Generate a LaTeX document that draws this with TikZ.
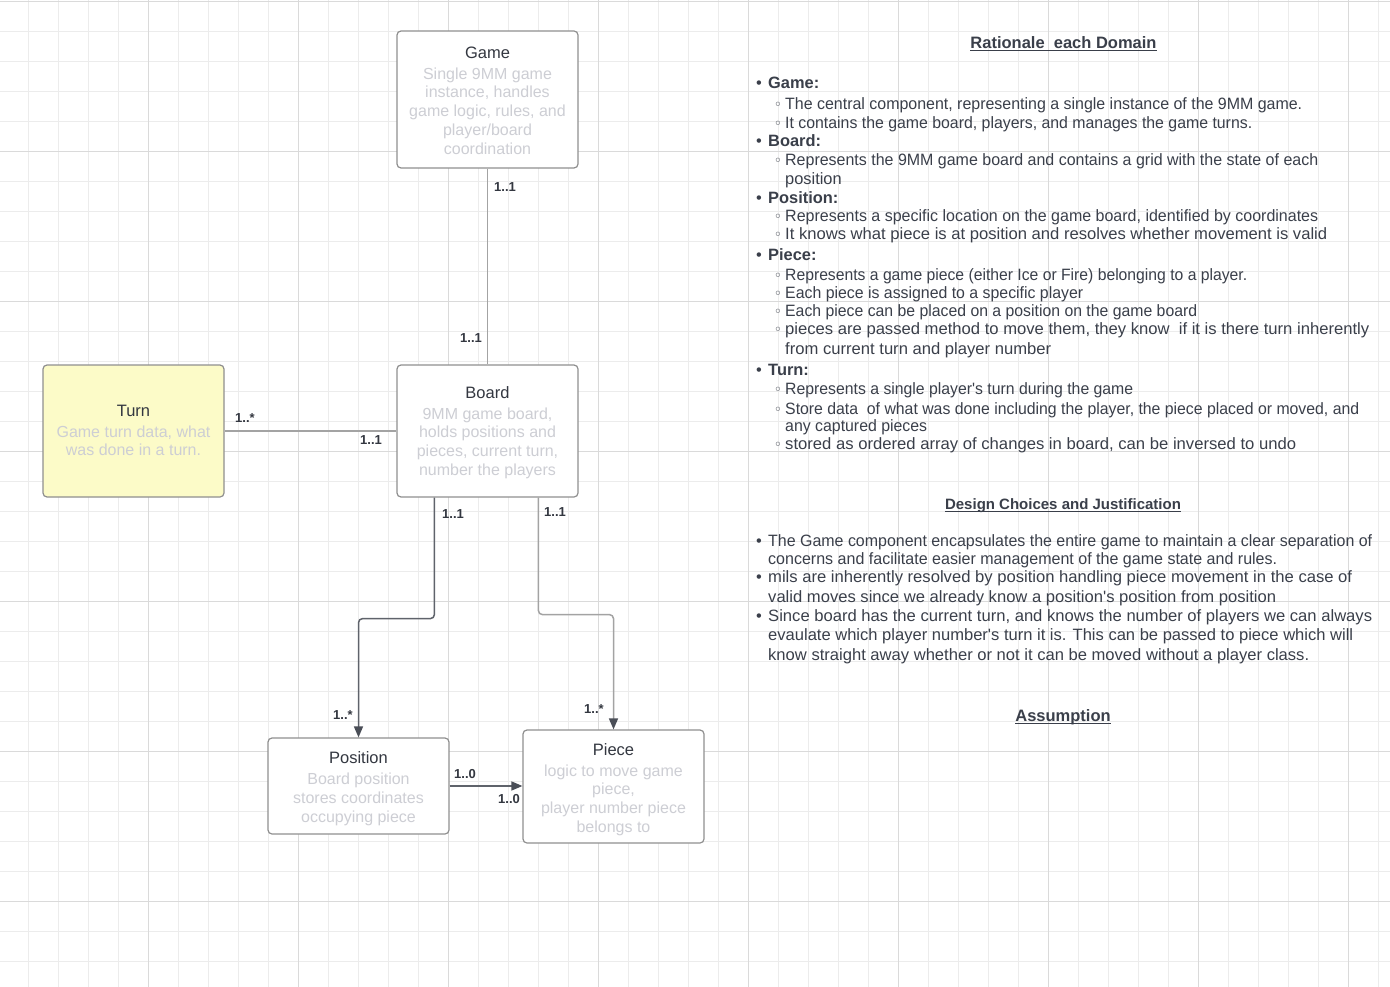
\documentclass[tikz,border=0pt]{standalone}
\usepackage{graphicx}
\usepackage{fontspec}
\setmainfont{Liberation Sans}[Ligatures=TeXOff]
\newfontfamily\dejavu{DejaVu Sans}
\usetikzlibrary{arrows.meta}
\definecolor{gridl}{HTML}{ECECEC}
\definecolor{gridd}{HTML}{DADADA}
\definecolor{boxdraw}{HTML}{8F8F8F}
\definecolor{turnfill}{HTML}{FCFBC8}
\definecolor{titlec}{HTML}{333740}
\definecolor{descc}{HTML}{CDCED4}
\definecolor{txt}{HTML}{3A3F4A}
\definecolor{linel}{HTML}{A3A3A3}
\definecolor{lined}{HTML}{5F636B}
\definecolor{tipc}{HTML}{4A4E57}
\newcommand\ttl[1]{{\color{titlec}\fontsize{16.5}{18.7}\selectfont #1}\\[2.3pt]}
\newcommand\fitw[2]{\resizebox{#1pt}{\height}{#2}}
\newcommand\mitem[3]{\node[bul] (#1b) at (759,#2) {•}; \node[bodyb] (#1) at (768,#2) {#3};}
\newcommand\sitem[4]{\node[subb] (#1b) at (778,#2) {◦}; \node[body] (#1) at (785,#2) {\fitw{#3}{#4}};}
\newcommand\contline[5]{\node[body] (#1) at (#2,#3) {\fitw{#4}{#5}};}
\newcommand\ditem[4]{\node[bul] (#1b) at (759,#2) {•}; \node[body] (#1) at (768,#2) {\fitw{#3}{#4}};}
\tikzset{
 box/.style={draw=boxdraw, line width=1.2pt, rounded corners=4pt, fill=white, inner sep=0pt,
   minimum width=181pt},
 boxtext/.style={inner sep=0pt, align=center, text=descc, font=\fontsize{16}{18.7}\selectfont},
 mult/.style={font=\bfseries\fontsize{13}{15}\selectfont, text=titlec, inner sep=0pt},
 conn/.style={line width=1.5pt, rounded corners=4pt},
 arr/.style={-{Triangle[length=11pt,width=9pt,color=tipc]}},
 body/.style={anchor=base west, inner sep=0pt, text=txt, font=\fontsize{16.4}{19}\selectfont},
 bodyb/.style={anchor=base west, inner sep=0pt, text=txt, font=\bfseries\fontsize{16.4}{19}\selectfont},
 bul/.style={anchor=base, inner sep=0pt, text=txt, font=\fontsize{16.4}{19}\selectfont},
 subb/.style={anchor=base, inner sep=0pt, text=txt, font=\dejavu\fontsize{14}{14}\selectfont},
 head/.style={anchor=base, inner sep=0pt, text=txt, font=\bfseries\fontsize{16.5}{18}\selectfont},
 uline/.style={draw=txt, line width=1pt}
}
\begin{document}
\begin{tikzpicture}[x=1pt,y=-1pt]
\useasboundingbox (0,0) rectangle (1390,987);
\fill[white] (0,0) rectangle (1390,987);
% grid
\foreach \i in {0,...,45} {\draw[gridl, line width=0.9pt] (28.3+30*\i,0) -- (28.3+30*\i,987);}
\foreach \i in {0,...,32} {\draw[gridl, line width=0.9pt] (0,1.3+30*\i) -- (1390,1.3+30*\i);}
\foreach \i in {0,...,8} {\draw[gridd, line width=0.9pt] (148.3+150*\i,0) -- (148.3+150*\i,987);}
\foreach \i in {0,...,6} {\draw[gridd, line width=0.9pt] (0,1.3+150*\i) -- (1390,1.3+150*\i);}

% boxes
\node[box, minimum height=137pt] (game) at (487.5,99.5) {};
\node[boxtext] (gamet) at ([yshift=-1pt]game.center)
  {\ttl{Game}Single 9MM game\\instance, handles\\game logic, rules, and\\player/board\\coordination};
\node[box, minimum height=132pt] (board) at (487.5,431) {};
\node[boxtext] (boardt) at ([yshift=-1.5pt]board.center)
  {\ttl{Board}9MM game board,\\holds positions and\\pieces, current turn,\\number the players};
\node[box, minimum height=132pt, fill=turnfill] (turn) at (133.5,431) {};
\node[boxtext] (turnt) at ([yshift=0.5pt]turn.center)
  {\ttl{Turn}Game turn data, what\\was done in a turn.};
\node[box, minimum height=96pt] (position) at (358.5,786) {};
\node[boxtext] (positiont) at ([yshift=-2.5pt]position.center)
  {\ttl{Position}Board position\\stores coordinates\\occupying piece};
\node[box, minimum height=113pt] (piece) at (613.5,786.5) {};
\node[boxtext] (piecet) at ([yshift=-3pt]piece.center)
  {\ttl{Piece}logic to move game\\piece,\\player number piece\\belongs to};

% connectors
\draw[conn, draw=linel] (game.south) -- (board.north);
\draw[conn, draw=linel] (turn.east) -- (board.west);
\draw[conn, draw=lined, arr] ([xshift=38pt]board.south west) -- ++(0,121) -| (position.north);
\draw[conn, draw=linel, arr] ([xshift=142pt]board.south west) -- ++(0,117) -| (piece.north);
\draw[conn, draw=lined, arr] (position.east) -- (position.east -| piece.west);

% multiplicities
\node[mult] (m1) at (505,187) {1..1};
\node[mult] (m2) at (471,338) {1..1};
\node[mult] (m3) at (245,418) {1..*};
\node[mult] (m4) at (371,440) {1..1};
\node[mult] (m5) at (453,514) {1..1};
\node[mult] (m6) at (343,715) {1..*};
\node[mult] (m7) at (555,512) {1..1};
\node[mult] (m8) at (594,709) {1..*};
\node[mult] (m9) at (465,774) {1..0};
\node[mult] (m10) at (509,799) {1..0};

% right text
\node[head] (h1) at (1063.5,48.5) {Rationale~ each Domain};
\draw[uline] ([yshift=-2.4pt]h1.base west) -- ([yshift=-2.4pt]h1.base east);
\mitem{g}{89}{Game:}
\sitem{g1}{110}{517}{The central component, representing a single instance of the 9MM game.}
\sitem{g2}{129}{467}{It contains the game board, players, and manages the game turns.}
\mitem{bo}{147}{Board:}
\sitem{bo1}{166}{533}{Represents the 9MM game board and contains a grid with the state of each}
\node[body] (bo1c) at (785,185) {position};
\mitem{po}{203.5}{Position:}
\sitem{po1}{222}{533}{Represents a specific location on the game board, identified by coordinates}
\sitem{po2}{240}{542}{It knows what piece is at position and resolves whether movement is valid}
\mitem{pi}{260.5}{Piece:}
\sitem{pi1}{280}{462}{Represents a game piece (either Ice or Fire) belonging to a player.}
\sitem{pi2}{298.5}{298}{Each piece is assigned to a specific player}
\sitem{pi3}{316.5}{412}{Each piece can be placed on a position on the game board}
\sitem{pi4}{334.5}{584}{pieces are passed method to move them, they know~ if it is there turn inherently}
\contline{pi4c}{785}{354}{266}{from current turn and player number}
\mitem{tu}{375.5}{Turn:}
\sitem{tu1}{394.5}{348}{Represents a single player's turn during the game}
\sitem{tu2}{414}{574}{Store data~ of what was done including the player, the piece placed or moved, and}
\contline{tu2c}{785}{431.5}{142}{any captured pieces}
\sitem{tu3}{449}{511}{stored as ordered array of changes in board, can be inversed to undo}

\node[head, font=\bfseries\fontsize{15}{18}\selectfont] (h2) at (1063,509) {Design Choices and Justification};
\draw[uline] ([yshift=-2.4pt]h2.base west) -- ([yshift=-2.4pt]h2.base east);
\ditem{d1}{546}{604}{The Game component encapsulates the entire game to maintain a clear separation of}
\contline{d1c}{768}{564.5}{509}{concerns and facilitate easier management of the game state and rules.}
\ditem{d2}{582.5}{584}{mils are inherently resolved by position handling piece movement in the case of}
\contline{d2c}{768}{602}{508}{valid moves since we already know a position's position from position}
\ditem{d3}{621}{604}{Since board has the current turn, and knows the number of players we can always}
\contline{d3c}{768}{640.5}{585}{evaulate which player number's turn it is. This can be passed to piece which will}
\contline{d3d}{768}{660}{541}{know straight away whether or not it can be moved without a player class.}

\node[head] (h3) at (1063,721) {Assumption};
\draw[uline] ([yshift=-2.4pt]h3.base west) -- ([yshift=-2.4pt]h3.base east);
\end{tikzpicture}
\end{document}
